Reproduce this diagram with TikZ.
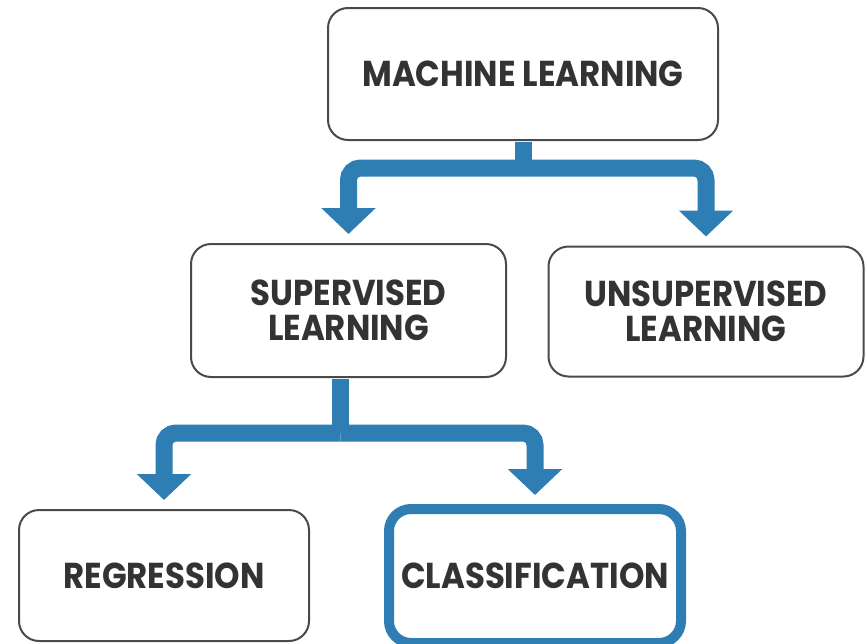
\documentclass[tikz,border=0pt]{standalone}
\usepackage{fontspec}
\setmainfont{Poppins}[FakeStretch=0.9]
\usetikzlibrary{arrows.meta, positioning}
\definecolor{azul}{RGB}{46,126,179}
\definecolor{borde}{RGB}{74,74,74}
\definecolor{texto}{RGB}{51,51,51}
\tikzset{
	x=1pt, y=-1pt, % Coordenadas en pixeles
	caja/.style={draw=borde, line width=2pt, rounded corners=20pt, fill=white, text=texto, align=center, inner sep=0pt, font=\bfseries\fontsize{36}{35}\selectfont}, % Propiedades de las cajas
	flecha/.style={draw=azul, line width=17pt, rounded corners=12pt, -{Triangle[width=53pt 0 0, length=26pt 0 0]}, shorten >=9pt}, % Flechas gruesas
	tallo/.style={draw=azul, line width=17pt, shorten <=1pt} % Tramo que sale de la caja
}

\begin{document}
\begin{tikzpicture}
	\useasboundingbox (0,0) rectangle (867,643);
	\node[caja, minimum width=390pt, minimum height=132pt] (ml) at (523,74) {MACHINE LEARNING};
	\node[caja, minimum width=315pt, minimum height=133pt] (sl) at (348.5,310.5) {SUPERVISED\\LEARNING};
	\node[caja, minimum width=315pt, minimum height=130pt] (usl) at (706,311.5) {UNSUPERVISED\\LEARNING};
	\node[caja, minimum width=290pt, minimum height=131pt] (reg) at (164,575.5) {REGRESSION};
	\node[caja, draw=azul, line width=10pt, rounded corners=22pt, minimum width=292pt, minimum height=134pt] (cls) at (535,576) {CLASSIFICATION};
	\draw[tallo] (ml.south) -- ++(0,27) coordinate (j1);
	\draw[flecha] (j1) -| (sl.north);
	\draw[flecha] (j1) -| (usl.north);
	\draw[tallo] ([xshift=-8pt]sl.south) -- ++(0,55) coordinate (j2);
	\draw[flecha] (j2) -| (reg.north);
	\draw[flecha] (j2) -| (cls.north);
\end{tikzpicture}
\end{document}
